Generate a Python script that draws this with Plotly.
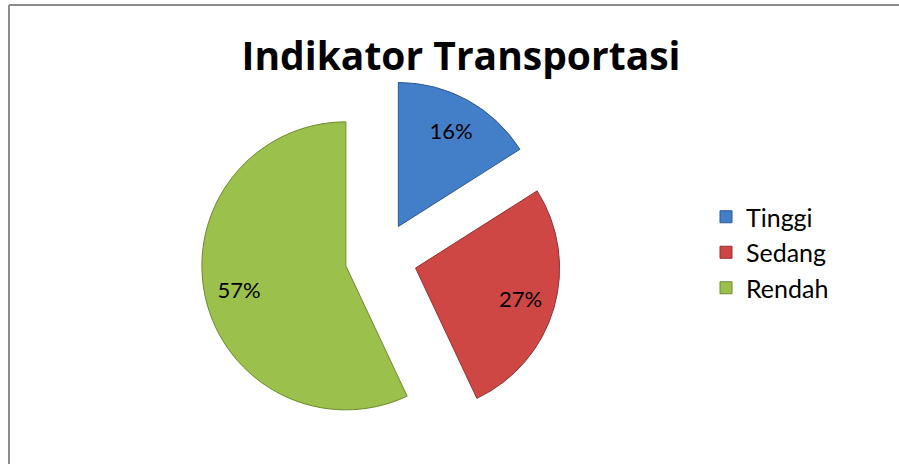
import plotly.graph_objects as go

categories = ["Tinggi", "Sedang", "Rendah"]
values = [16, 27, 57]
slice_colors = ["#437fc9", "#cf4744", "#9cc04c"]
edge_colors = ["#2c5a93", "#92302e", "#6c8a2e"]

W, H = 899, 464
FONT = "Lato, Carlito, Calibri, sans-serif"
TITLE_FONT = "Open Sans, Noto Sans, sans-serif"


def px(x):
    return x / W


def py(y):
    return 1 - y / H


dom = dict(x=[px(201), px(561)], y=[py(438), py(78)])
pulls = [0.25, 0.25, 0.25]

fig = go.Figure()
fig.add_trace(go.Pie(
    labels=categories,
    values=values,
    sort=False,
    direction="clockwise",
    rotation=0,
    pull=pulls,
    marker=dict(colors=slice_colors, line=dict(color=edge_colors, width=1)),
    textinfo="none",
    domain=dom,
    hoverinfo="label+percent",
))
# transparent overlay ring used only to place the percent labels further out
fig.add_trace(go.Pie(
    labels=categories,
    values=values,
    sort=False,
    direction="clockwise",
    rotation=0,
    pull=pulls,
    hole=0.52,
    marker=dict(colors=["rgba(0,0,0,0)"] * 3, line=dict(width=0)),
    texttemplate="%{percent:.0%}",
    textposition="inside",
    insidetextorientation="horizontal",
    textfont=dict(family=FONT, size=22, color="black"),
    domain=dom,
    showlegend=False,
    hoverinfo="skip",
))

fig.update_layout(
    width=W, height=H,
    margin=dict(l=0, r=0, t=0, b=0),
    paper_bgcolor="white",
    plot_bgcolor="white",
    title=dict(text="<b>Indikator Transportasi</b>", x=px(461), xanchor="center",
               y=py(56), yanchor="middle",
               font=dict(family=TITLE_FONT, size=39, color="black")),
    legend=dict(x=px(706), xanchor="left", y=py(194), yanchor="top",
                font=dict(family=FONT, size=25, color="black"),
                bgcolor="rgba(0,0,0,0)", itemwidth=30),
    uniformtext=dict(minsize=22, mode="show"),
    shapes=[
        dict(type="line", xref="paper", yref="paper", x0=px(9), x1=px(9), y0=0, y1=py(5),
             line=dict(color="#8c8c8c", width=2)),
        dict(type="line", xref="paper", yref="paper", x0=px(9), x1=1, y0=py(5), y1=py(5),
             line=dict(color="#8c8c8c", width=2)),
    ],
)

fig.write_html("out.html", config={"displayModeBar": False},
               post_script="document.body.style.margin='0';")
